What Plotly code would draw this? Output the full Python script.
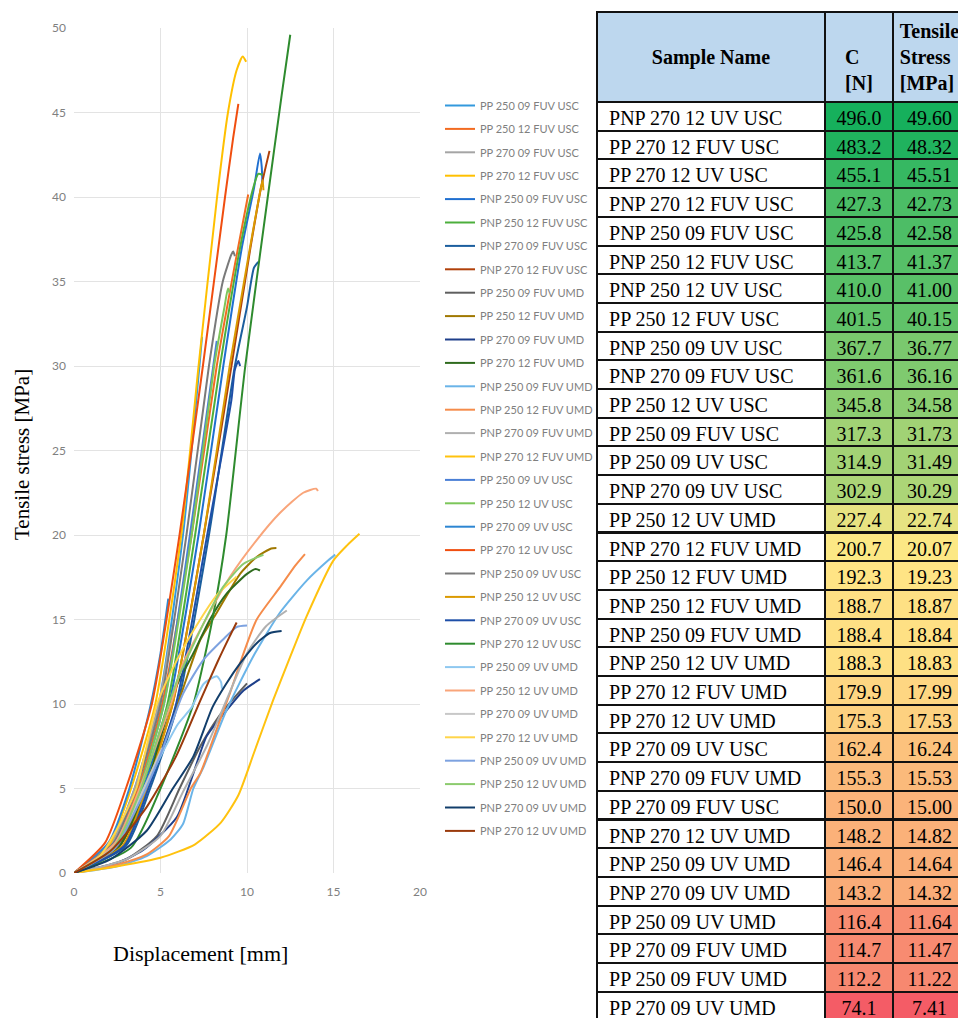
import plotly.graph_objects as go
import numpy as np

# ---------------- curve data (displacement [mm], tensile stress [MPa]) ----------------
x_pp_250_09_fuv_usc = [0, 2.2, 3.5, 4.9, 6.3, 7.25, 7.4]
y_pp_250_09_fuv_usc = [0, 1.8, 5, 10, 20, 30, 31.73]
x_pp_250_12_fuv_usc = [0, 2.4, 3.7, 5.1, 6.8, 8.25, 9.3, 10.07]
y_pp_250_12_fuv_usc = [0, 1.8, 5, 10, 20, 30, 36, 40.15]
x_pp_270_09_fuv_usc = [0, 2.2, 3.5, 4.9, 5.6, 5.8]
y_pp_270_09_fuv_usc = [0, 1.8, 5, 10, 14, 15.0]
x_pp_270_12_fuv_usc = [0, 2.0, 3.3, 4.7, 6.2, 7.2, 8.27, 8.9, 9.4, 9.75, 9.95]
y_pp_270_12_fuv_usc = [0, 1.6, 5, 10, 20, 30, 40, 45, 47.5, 48.32, 48.0]
x_pnp_250_09_fuv_usc = [0, 2.6, 4.0, 5.5, 7.2, 8.63, 9.7, 10.4, 10.75, 10.85, 10.9]
y_pnp_250_09_fuv_usc = [0, 1.6, 5, 10, 20, 30, 37, 40.5, 42.58, 41.8, 40.6]
x_pnp_250_12_fuv_usc = [0, 2.6, 3.9, 5.4, 7.0, 8.44, 9.6, 10.35, 10.65, 10.9]
y_pnp_250_12_fuv_usc = [0, 1.7, 5, 10, 20, 30, 37, 40.5, 41.37, 41.3]
x_pnp_270_09_fuv_usc = [0, 3.0, 4.4, 6.0, 7.8, 9.3, 10.0, 10.4, 10.65]
y_pnp_270_09_fuv_usc = [0, 1.6, 5, 10, 20, 30, 33.5, 35.8, 36.16]
x_pnp_270_12_fuv_usc = [0, 2.7, 4.1, 5.7, 7.5, 9.1, 10.2, 10.8, 11.3]
y_pnp_270_12_fuv_usc = [0, 1.7, 5, 10, 20, 30, 37, 40.5, 42.73]
x_pp_250_09_fuv_umd = [0, 3.0, 4.8, 6.1, 7.3, 8.4, 9.2, 10.0]
y_pp_250_09_fuv_umd = [0, 0.8, 2.2, 5, 7.5, 9.3, 10.3, 11.22]
x_pp_250_12_fuv_umd = [0, 2.7, 4.2, 6.0, 7.3, 8.25, 9.6, 10.56, 11.4, 11.7]
y_pp_250_12_fuv_umd = [0, 1.7, 5, 10, 13.8, 15.4, 17.7, 18.7, 19.2, 19.23]
x_pp_270_09_fuv_umd = [0, 2.5, 4.0, 5.94, 6.9, 7.67, 8.8, 9.8, 10.75]
y_pp_270_09_fuv_umd = [0, 0.6, 1.36, 3.3, 5.9, 8.1, 9.6, 10.8, 11.47]
x_pp_270_12_fuv_umd = [0, 2.5, 4.0, 5.0, 5.9, 6.9, 7.86, 8.8, 10.0, 10.5, 10.75]
y_pp_270_12_fuv_umd = [0, 1.4, 4.5, 8, 11.0, 13.0, 15.0, 16.5, 17.7, 17.99, 17.9]
x_pnp_250_09_fuv_umd = [0, 2.5, 4.2, 5.6, 6.3, 6.9, 7.5, 8.8, 10.35, 11.9, 13.45, 14.7, 15.1]
y_pnp_250_09_fuv_umd = [0, 0.4, 1.0, 2.0, 2.9, 5.0, 6.3, 9.6, 12.8, 15.4, 17.3, 18.5, 18.84]
x_pnp_250_12_fuv_umd = [0, 2.5, 4.2, 5.5, 6.75, 7.3, 8.44, 9.0, 9.8, 10.56, 11.9, 12.8, 13.35]
y_pnp_250_12_fuv_umd = [0, 0.5, 1.1, 2.2, 5, 5.9, 9.05, 10.6, 13.0, 15.0, 16.9, 18.2, 18.87]
x_pnp_270_09_fuv_umd = [0, 3.0, 5.0, 6.3, 7.67, 8.8, 10.0, 11.1, 12.3]
y_pnp_270_09_fuv_umd = [0, 0.8, 2.2, 4.8, 7.5, 10.2, 13.0, 14.6, 15.53]
x_pnp_270_12_fuv_umd = [0, 2.5, 5.0, 7.0, 8.5, 9.5, 10.4, 11.5, 12.5, 13.45, 15.0, 15.8, 16.5]
y_pnp_270_12_fuv_umd = [0, 0.4, 0.9, 1.7, 3.0, 4.6, 7.1, 10.2, 12.8, 15.2, 18.5, 19.4, 20.07]
x_pp_250_09_uv_usc = [0, 2.5, 3.8, 5.2, 6.7, 8.05, 8.25]
y_pp_250_09_uv_usc = [0, 1.6, 5, 10, 20, 30, 31.49]
x_pp_250_12_uv_usc = [0, 2.5, 3.8, 5.2, 6.8, 8.1, 8.7, 8.9, 9.0]
y_pp_250_12_uv_usc = [0, 1.7, 5, 10, 20, 30, 33.5, 34.58, 34.3]
x_pp_270_09_uv_usc = [0, 2.0, 3.2, 4.4, 5.0, 5.45]
y_pp_270_09_uv_usc = [0, 1.8, 5, 9.8, 13.0, 16.24]
x_pp_270_12_uv_usc = [0, 1.8, 3.0, 4.5, 6.1, 7.45, 8.73, 9.2, 9.5]
y_pp_270_12_uv_usc = [0, 1.8, 5, 10, 20, 30, 40, 43.5, 45.51]
x_pnp_250_09_uv_usc = [0, 2.3, 3.6, 5.0, 6.5, 7.8, 8.6, 9.1, 9.2, 9.3]
y_pnp_250_09_uv_usc = [0, 1.8, 5, 10, 20, 30, 35, 36.6, 36.77, 36.5]
x_pnp_250_12_uv_usc = [0, 2.8, 4.2, 5.7, 7.5, 9.0, 10.0, 10.7, 10.9, 10.95]
y_pnp_250_12_uv_usc = [0, 1.6, 5, 10, 20, 30, 36, 40.0, 41.0, 40.4]
x_pnp_270_09_uv_usc = [0, 2.9, 4.3, 5.9, 7.7, 9.1, 9.3, 9.5, 9.6]
y_pnp_270_09_uv_usc = [0, 1.6, 5, 10, 20, 28, 29.8, 30.29, 30.0]
x_pnp_270_12_uv_usc = [0, 3.3, 5.0, 6.9, 8.0, 8.8, 9.9, 11.2, 12.0, 12.5]
y_pnp_270_12_uv_usc = [0, 1.5, 5, 10, 15, 20, 30, 40, 46, 49.6]
x_pp_250_09_uv_umd = [0, 2.2, 3.6, 4.8, 6.0, 6.8, 7.5, 8.25, 8.5, 8.55]
y_pp_250_09_uv_umd = [0, 1.5, 4.0, 6.5, 8.8, 9.8, 11.2, 11.64, 11.3, 10.9]
x_pp_250_12_uv_umd = [0, 2.4, 3.8, 5.6, 6.3, 7.3, 9.0, 10.56, 11.9, 13.25, 14.0, 14.1]
y_pp_250_12_uv_umd = [0, 1.8, 5, 10, 12.4, 14.4, 17.5, 19.7, 21.3, 22.5, 22.74, 22.6]
x_pp_270_09_uv_umd = [0, 2.3, 3.8, 5.1]
y_pp_270_09_uv_umd = [0, 1.5, 4.5, 7.41]
x_pp_270_12_uv_umd = [0, 1.5, 2.7, 3.6, 4.8, 6.0, 7.3, 8.3, 9.4]
y_pp_270_12_uv_umd = [0, 1.0, 3.0, 5, 10, 12.7, 15.0, 16.5, 17.53]
x_pnp_250_09_uv_umd = [0, 2.3, 3.7, 5.0, 6.3, 7.47, 8.6, 9.4, 10.0]
y_pnp_250_09_uv_umd = [0, 1.4, 4, 7, 10.6, 12.6, 13.8, 14.55, 14.64]
x_pnp_250_12_uv_umd = [0, 2.3, 3.7, 5.0, 6.0, 6.9, 7.7, 8.6, 9.8, 10.95]
y_pnp_250_12_uv_umd = [0, 1.5, 4.5, 8.5, 11.5, 13.5, 15.2, 16.9, 18.3, 18.83]
x_pnp_270_09_uv_umd = [0, 2.1, 4.2, 5.65, 6.9, 8.0, 8.8, 9.6, 10.56, 11.33, 12.0]
y_pnp_270_09_uv_umd = [0, 0.8, 2.5, 4.9, 6.9, 9.8, 11.2, 12.4, 13.6, 14.2, 14.32]
x_pnp_270_12_uv_umd = [0, 2.1, 4.2, 5.9, 7.3, 8.3, 9.0, 9.4]
y_pnp_270_12_uv_umd = [0, 1.3, 3.9, 6.9, 10.2, 12.5, 14.0, 14.82]

legend_names = [
    "PP 250 09 FUV USC", "PP 250 12 FUV USC", "PP 270 09 FUV USC", "PP 270 12 FUV USC",
    "PNP 250 09 FUV USC", "PNP 250 12 FUV USC", "PNP 270 09 FUV USC", "PNP 270 12 FUV USC",
    "PP 250 09 FUV UMD", "PP 250 12 FUV UMD", "PP 270 09 FUV UMD", "PP 270 12 FUV UMD",
    "PNP 250 09 FUV UMD", "PNP 250 12 FUV UMD", "PNP 270 09 FUV UMD", "PNP 270 12 FUV UMD",
    "PP 250 09 UV USC", "PP 250 12 UV USC", "PP 270 09 UV USC", "PP 270 12 UV USC",
    "PNP 250 09 UV USC", "PNP 250 12 UV USC", "PNP 270 09 UV USC", "PNP 270 12 UV USC",
    "PP 250 09 UV UMD", "PP 250 12 UV UMD", "PP 270 09 UV UMD", "PP 270 12 UV UMD",
    "PNP 250 09 UV UMD", "PNP 250 12 UV UMD", "PNP 270 09 UV UMD", "PNP 270 12 UV UMD",
]

# ---------------- table data ----------------
sample_names = [
    "PNP 270 12 UV USC", "PP 270 12 FUV USC", "PP 270 12 UV USC", "PNP 270 12 FUV USC",
    "PNP 250 09 FUV USC", "PNP 250 12 FUV USC", "PNP 250 12 UV USC", "PP 250 12 FUV USC",
    "PNP 250 09 UV USC", "PNP 270 09 FUV USC", "PP 250 12 UV USC", "PP 250 09 FUV USC",
    "PP 250 09 UV USC", "PNP 270 09 UV USC", "PP 250 12 UV UMD", "PNP 270 12 FUV UMD",
    "PP 250 12 FUV UMD", "PNP 250 12 FUV UMD", "PNP 250 09 FUV UMD", "PNP 250 12 UV UMD",
    "PP 270 12 FUV UMD", "PP 270 12 UV UMD", "PP 270 09 UV USC", "PNP 270 09 FUV UMD",
    "PP 270 09 FUV USC", "PNP 270 12 UV UMD", "PNP 250 09 UV UMD", "PNP 270 09 UV UMD",
    "PP 250 09 UV UMD", "PP 270 09 FUV UMD", "PP 250 09 FUV UMD", "PP 270 09 UV UMD",
]
c_values = [496.0, 483.2, 455.1, 427.3, 425.8, 413.7, 410.0, 401.5, 367.7, 361.6, 345.8,
            317.3, 314.9, 302.9, 227.4, 200.7, 192.3, 188.7, 188.4, 188.3, 179.9, 175.3,
            162.4, 155.3, 150.0, 148.2, 146.4, 143.2, 116.4, 114.7, 112.2, 74.1]
stress_values = [49.60, 48.32, 45.51, 42.73, 42.58, 41.37, 41.00, 40.15, 36.77, 36.16, 34.58,
                 31.73, 31.49, 30.29, 22.74, 20.07, 19.23, 18.87, 18.84, 18.83, 17.99, 17.53,
                 16.24, 15.53, 15.00, 14.82, 14.64, 14.32, 11.64, 11.47, 11.22, 7.41]

header_labels = ["\u00a0<br><b>Sample Name</b>", "\u00a0<br><b>C<br>[N]</b>",
                 "<b>Tensile<br>Stress<br>[MPa]</b>"]

# ---------------- styling ----------------
line_colors = [
    "#3399DD", "#F26B21", "#A5A5A5", "#FFC000",
    "#1F6FD0", "#4CAF3C", "#1B5E9E", "#B0400A",
    "#5F5F5F", "#A07800", "#1E3F8A", "#2F6B1E",
    "#6AB4E8", "#F58C4B", "#B0B0B0", "#FFC20E",
    "#4A7FD6", "#7CC65A", "#2D86D2", "#F04E10",
    "#7A7A7A", "#DB9A00", "#1E4FA8", "#2E8B2E",
    "#8EC8F0", "#F9A57A", "#C8C8C8", "#FFD54A",
    "#7DA2E0", "#8CCB6E", "#123E6B", "#9A3A0C",
]

series_x = [
    x_pp_250_09_fuv_usc, x_pp_250_12_fuv_usc, x_pp_270_09_fuv_usc, x_pp_270_12_fuv_usc,
    x_pnp_250_09_fuv_usc, x_pnp_250_12_fuv_usc, x_pnp_270_09_fuv_usc, x_pnp_270_12_fuv_usc,
    x_pp_250_09_fuv_umd, x_pp_250_12_fuv_umd, x_pp_270_09_fuv_umd, x_pp_270_12_fuv_umd,
    x_pnp_250_09_fuv_umd, x_pnp_250_12_fuv_umd, x_pnp_270_09_fuv_umd, x_pnp_270_12_fuv_umd,
    x_pp_250_09_uv_usc, x_pp_250_12_uv_usc, x_pp_270_09_uv_usc, x_pp_270_12_uv_usc,
    x_pnp_250_09_uv_usc, x_pnp_250_12_uv_usc, x_pnp_270_09_uv_usc, x_pnp_270_12_uv_usc,
    x_pp_250_09_uv_umd, x_pp_250_12_uv_umd, x_pp_270_09_uv_umd, x_pp_270_12_uv_umd,
    x_pnp_250_09_uv_umd, x_pnp_250_12_uv_umd, x_pnp_270_09_uv_umd, x_pnp_270_12_uv_umd,
]
series_y = [
    y_pp_250_09_fuv_usc, y_pp_250_12_fuv_usc, y_pp_270_09_fuv_usc, y_pp_270_12_fuv_usc,
    y_pnp_250_09_fuv_usc, y_pnp_250_12_fuv_usc, y_pnp_270_09_fuv_usc, y_pnp_270_12_fuv_usc,
    y_pp_250_09_fuv_umd, y_pp_250_12_fuv_umd, y_pp_270_09_fuv_umd, y_pp_270_12_fuv_umd,
    y_pnp_250_09_fuv_umd, y_pnp_250_12_fuv_umd, y_pnp_270_09_fuv_umd, y_pnp_270_12_fuv_umd,
    y_pp_250_09_uv_usc, y_pp_250_12_uv_usc, y_pp_270_09_uv_usc, y_pp_270_12_uv_usc,
    y_pnp_250_09_uv_usc, y_pnp_250_12_uv_usc, y_pnp_270_09_uv_usc, y_pnp_270_12_uv_usc,
    y_pp_250_09_uv_umd, y_pp_250_12_uv_umd, y_pp_270_09_uv_umd, y_pp_270_12_uv_umd,
    y_pnp_250_09_uv_umd, y_pnp_250_12_uv_umd, y_pnp_270_09_uv_umd, y_pnp_270_12_uv_umd,
]

# The page body has an 8px default margin; the figure starts at (8, 8) in the window.
OFF = 8
W, H = 966 - OFF, 1018 - OFF


def px_x(px):
    return (px - OFF) / W


def px_y(py):
    return 1 - (py - OFF) / H


fig = go.Figure()
for i, (name, xs, ys, col) in enumerate(zip(legend_names, series_x, series_y, line_colors)):
    fig.add_trace(go.Scatter(
        x=xs, y=ys, mode="lines", name=name, legendgroup=f"g{i}",
        line=dict(color=col, width=2, shape="spline", smoothing=0.6),
        hoverinfo="skip",
    ))


# ---- table colour scale (3-colour, red-yellow-green by value) ----
def lerp(c1, c2, t):
    return "rgb(%d,%d,%d)" % tuple(round(a + (b - a) * t) for a, b in zip(c1, c2))


red, yellow, green = (244, 92, 102), (255, 233, 134), (22, 176, 92)
vmin, vmax, vmid = min(stress_values), max(stress_values), float(np.median(stress_values))
cell_colors = []
for v in stress_values:
    if v <= vmid:
        cell_colors.append(lerp(red, yellow, (v - vmin) / (vmid - vmin)))
    else:
        cell_colors.append(lerp(yellow, green, (v - vmid) / (vmax - vmid)))

fig.add_trace(go.Table(
    domain=dict(x=[px_x(597), 1.0], y=[0, px_y(12)]),
    columnwidth=[228, 68, 73],
    header=dict(
        values=header_labels,
        fill_color="#BDD7EE",
        line=dict(color="#111111", width=2),
        align="center",
        font=dict(family="Liberation Serif", size=20, color="black"),
        height=86,
    ),
    cells=dict(
        values=[["\u2009" + s for s in sample_names],
                [f"{v:.1f}" for v in c_values],
                [f"{v:.2f}" for v in stress_values]],
        fill_color=[["white"] * len(sample_names), cell_colors, cell_colors],
        line=dict(color="#111111", width=2),
        align=["left", "center", "center"],
        font=dict(family="Liberation Serif", size=20, color="black"),
        height=28.7,
    ),
))

grid = "#E3E3E3"
tick_font = dict(family="Lato", size=12, color="#808080")
fig.update_layout(
    width=W, height=H,
    margin=dict(l=0, r=0, t=0, b=0, autoexpand=False),
    paper_bgcolor="white", plot_bgcolor="white",
    showlegend=True,
    legend=dict(
        x=px_x(440), y=px_y(91), xanchor="left", yanchor="top",
        font=dict(family="Lato", size=11, color="#7F7F7F"),
        tracegroupgap=4.4, bgcolor="rgba(0,0,0,0)",
        itemclick=False, itemdoubleclick=False,
    ),
    xaxis=dict(
        domain=[px_x(74), px_x(420)], range=[0, 20], tickvals=[0, 5, 10, 15, 20],
        showgrid=True, gridcolor=grid, gridwidth=1, zeroline=False,
        showline=False, ticks="", automargin=False, ticklabelstandoff=10,
        tickfont=tick_font,
    ),
    yaxis=dict(
        domain=[px_y(873), px_y(28)], range=[0, 50],
        tickvals=[0, 5, 10, 15, 20, 25, 30, 35, 40, 45, 50],
        showgrid=True, gridcolor=grid, gridwidth=1, zeroline=False,
        showline=False, ticks="", automargin=False, ticklabelstandoff=7,
        tickfont=tick_font,
    ),
    annotations=[
        dict(text="Tensile stress [MPa]", x=px_x(22), y=px_y(455), xref="paper", yref="paper",
             textangle=-90, showarrow=False, xanchor="center", yanchor="middle",
             font=dict(family="Liberation Serif", size=21, color="black")),
        dict(text="Displacement [mm]", x=px_x(200), y=px_y(953), xref="paper", yref="paper",
             showarrow=False, xanchor="center", yanchor="middle",
             font=dict(family="Liberation Serif", size=22, color="black")),
    ],
)

fig.write_html("out.html")
